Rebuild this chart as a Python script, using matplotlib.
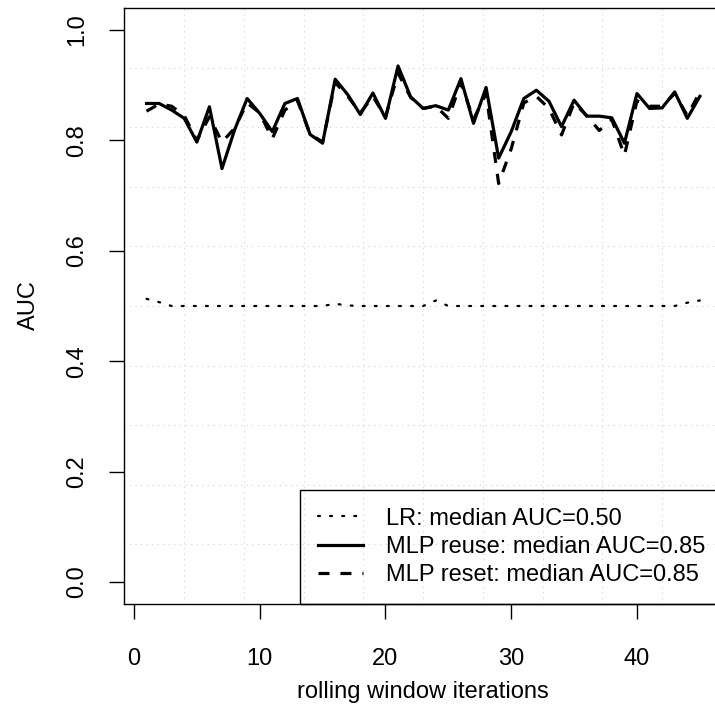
import numpy as np
import matplotlib
matplotlib.use("Agg")
import matplotlib.pyplot as plt

plt.rcParams['font.family'] = ['Liberation Sans', 'DejaVu Sans']
plt.rcParams['font.size'] = 17
plt.rcParams['lines.scale_dashes'] = False

# rolling window iterations
iterations = list(range(1, 46))

# AUC per iteration
lr_auc = [0.513, 0.507, 0.500, 0.500, 0.500, 0.500, 0.500, 0.500, 0.500, 0.500,
          0.500, 0.500, 0.500, 0.500, 0.500, 0.504, 0.501, 0.500, 0.500, 0.500,
          0.500, 0.500, 0.500, 0.510, 0.500, 0.500, 0.500, 0.500, 0.500, 0.500,
          0.500, 0.500, 0.500, 0.500, 0.500, 0.500, 0.500, 0.500, 0.500, 0.500,
          0.500, 0.500, 0.500, 0.506, 0.510]

mlp_reuse_auc = [0.867, 0.867, 0.855, 0.840, 0.797, 0.861, 0.749, 0.819, 0.876, 0.849,
                 0.816, 0.867, 0.876, 0.811, 0.795, 0.911, 0.883, 0.847, 0.886, 0.840,
                 0.935, 0.879, 0.858, 0.863, 0.855, 0.912, 0.831, 0.896, 0.768, 0.816,
                 0.876, 0.891, 0.871, 0.825, 0.873, 0.844, 0.844, 0.841, 0.795, 0.885,
                 0.858, 0.859, 0.888, 0.840, 0.880]

mlp_reset_auc = [0.853, 0.866, 0.862, 0.845, 0.800, 0.843, 0.797, 0.822, 0.868, 0.850,
                 0.803, 0.855, 0.872, 0.812, 0.797, 0.905, 0.880, 0.850, 0.880, 0.842,
                 0.922, 0.878, 0.858, 0.862, 0.840, 0.905, 0.838, 0.885, 0.722, 0.785,
                 0.868, 0.880, 0.858, 0.810, 0.868, 0.845, 0.818, 0.838, 0.773, 0.872,
                 0.862, 0.862, 0.885, 0.845, 0.888]

labels = ['LR: median AUC=0.50',
          'MLP reuse: median AUC=0.85',
          'MLP reset: median AUC=0.85']

W, H = 715, 722
fig = plt.figure(figsize=(W / 100, H / 100), dpi=100)
# plot region runs a bit past the right edge, like the original
ax = fig.add_axes([124.4 / W, 118 / H, 597.6 / W, 596 / H])

# R-like 4% padding on the axis ranges
lo, hi = min(iterations), max(iterations)
xpad = 0.04 * (hi - lo)
ax.set_xlim(lo - xpad, hi + xpad)
ax.set_ylim(-0.04, 1.04)

# grid(10, 10): equally spaced dotted lines
x0, x1 = ax.get_xlim()
y0, y1 = ax.get_ylim()
for k in range(1, 10):
    ax.axvline(x0 + (x1 - x0) * k / 10, color='lightgray', lw=0.8,
               dashes=(0.8, 3.2), zorder=0)
    ax.axhline(y0 + (y1 - y0) * k / 10, color='lightgray', lw=0.8,
               dashes=(0.8, 3.2), zorder=0)

ax.plot(iterations, lr_auc, color='black', lw=1.6, dashes=(1.4, 7.3),
        dash_capstyle='round', label=labels[0])
ax.plot(iterations, mlp_reuse_auc, color='black', lw=2.3, label=labels[1])
ax.plot(iterations, mlp_reset_auc, color='black', lw=2.3, dashes=(7.9, 7.9),
        label=labels[2])

ax.set_xticks([0, 10, 20, 30, 40])
ax.set_yticks([0.0, 0.2, 0.4, 0.6, 0.8, 1.0])
ax.set_yticklabels(['0.0', '0.2', '0.4', '0.6', '0.8', '1.0'], rotation=90, va='center')
ax.tick_params(direction='out', length=11, width=1, colors='black')
ax.tick_params(axis='x', pad=20.5)
ax.tick_params(axis='y', pad=15)
for s in ax.spines.values():
    s.set_linewidth(1)
ax.spines['right'].set_visible(False)

leg = ax.legend(loc='lower left', bbox_to_anchor=(0.2938, 0.0), borderaxespad=0,
                fancybox=False, edgecolor='black', facecolor='none', framealpha=1,
                handlelength=1.9, handletextpad=1.0, borderpad=0.75,
                labelspacing=0.27, fontsize=17)
leg.get_frame().set_linewidth(1)

fig.text(29 / W, 1 - 305 / H, 'AUC', rotation=90, ha='center', va='center')
fig.text(423 / W, 1 - 692 / H, 'rolling window iterations', ha='center', va='center')

fig.savefig('out.png', dpi=100)
